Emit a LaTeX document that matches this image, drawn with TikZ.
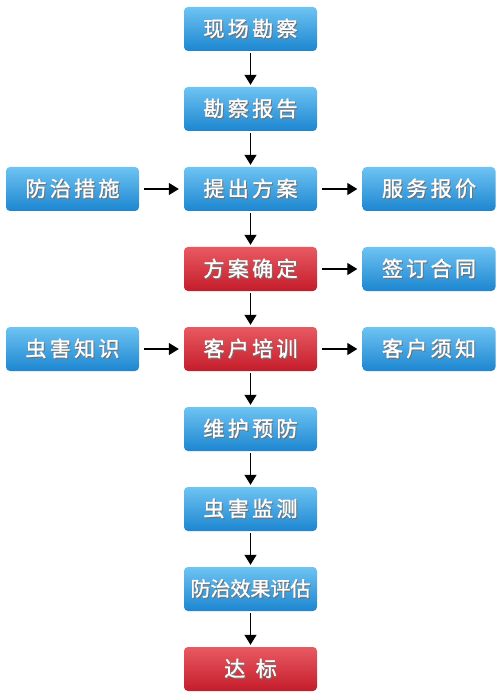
\documentclass[tikz,border=0pt]{standalone}
\usepackage{fontspec}
\newfontfamily\cjk[LetterSpace=16,FakeBold=1.3]{Noto Sans CJK SC}
\usetikzlibrary{arrows.meta}
\definecolor{btop}{RGB}{110,195,242}
\definecolor{bbot}{RGB}{28,134,208}
\definecolor{rtop}{RGB}{232,90,98}
\definecolor{rbot}{RGB}{196,28,42}
\newcommand\shtxt[1]{\leavevmode\rlap{\raisebox{-1.2pt}{\hspace{1pt}\color{black!55}#1}}#1}
\tikzset{
  box/.style={rounded corners=4pt, minimum width=133pt, minimum height=44pt, inner sep=0pt,
    text=white, font=\cjk\fontsize{21pt}{24pt}\selectfont, draw=none},
  bluebox/.style={box, top color=btop, bottom color=bbot},
  redbox/.style={box, top color=rtop, bottom color=rbot},
  arr/.style={line width=1.3pt, -{Triangle[width=12pt,length=10pt]}},
}
\begin{document}
\begin{tikzpicture}[x=1pt,y=-1pt]
\useasboundingbox (0,0) rectangle (500,700);
\node[bluebox] (n1) at (250.5,29) {\shtxt{现场勘察}};
\node[bluebox] (n2) at (250.5,109) {\shtxt{勘察报告}};
\node[bluebox] (n3) at (250.5,189) {\shtxt{提出方案}};
\node[redbox]  (n4) at (250.5,269) {\shtxt{方案确定}};
\node[redbox]  (n5) at (250.5,349) {\shtxt{客户培训}};
\node[bluebox] (n6) at (250.5,429) {\shtxt{维护预防}};
\node[bluebox] (n7) at (250.5,509) {\shtxt{虫害监测}};
\node[bluebox] (n8) at (250.5,589) {\shtxt{\addfontfeatures{LetterSpace=0}\fontsize{20pt}{22pt}\selectfont 防治效果评估}};
\node[redbox]  (n9) at (250.5,669) {\shtxt{达\hspace{0.5em}标}};
\node[bluebox] (l3) at (72.5,189) {\shtxt{防治措施}};
\node[bluebox] (l5) at (72.5,349) {\shtxt{虫害知识}};
\node[bluebox] (r3) at (429,189) {\shtxt{服务报价}};
\node[bluebox] (r4) at (429,269) {\shtxt{签订合同}};
\node[bluebox] (r5) at (429,349) {\shtxt{客户须知}};
\foreach \a/\b in {n1/n2,n2/n3,n3/n4,n4/n5,n5/n6,n6/n7,n7/n8,n8/n9}
  \draw[arr, shorten <=2pt, shorten >=2pt] (\a) -- (\b);
\foreach \a/\b in {l3/n3,l5/n5,n3/r3,n4/r4,n5/r5}
  \draw[arr, shorten <=5pt, shorten >=5pt] (\a) -- (\b);
\end{tikzpicture}
\end{document}
